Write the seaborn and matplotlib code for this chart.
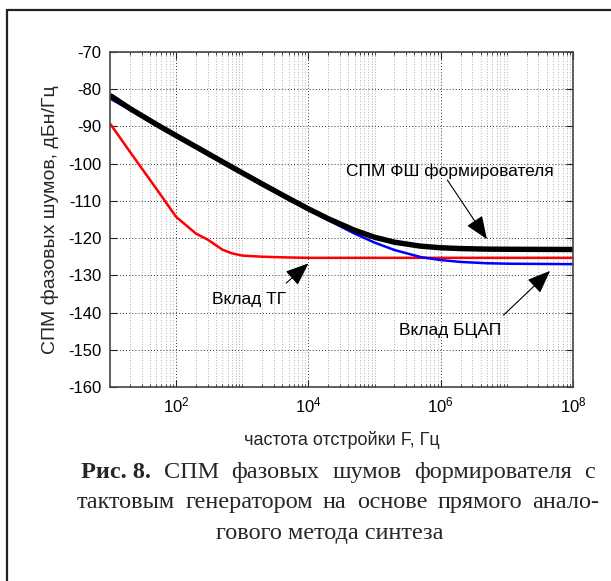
import numpy as np
import pandas as pd
import matplotlib
matplotlib.use("Agg")
import matplotlib.pyplot as plt
import seaborn as sns
from matplotlib.ticker import FixedLocator, FixedFormatter, NullFormatter
from matplotlib.patches import FancyArrowPatch
from matplotlib.lines import Line2D

# Offset frequency, Hz
freq_hz = [1e1, 2e1, 5e1, 1e2, 2e2, 3e2, 5e2, 7e2, 1e3, 2e3, 5e3, 1e4, 2e4, 5e4,
           1e5, 2e5, 5e5, 1e6, 2e6, 5e6, 1e7, 1e8]
# Phase-noise PSD, dBc/Hz
total_psd = [-81.66, -85.19, -89.42, -92.47, -95.48, -97.25, -99.48, -100.93, -102.47,
             -105.45, -109.31, -112.14, -114.8, -117.9, -119.76, -121.1, -122.17,
             -122.59, -122.81, -122.96, -123.0, -123.06]
dac_psd = [-82.5, -85.5, -89.5, -92.5, -95.5, -97.27, -99.5, -100.95, -102.5, -105.5,
           -109.4, -112.35, -115.2, -118.8, -121.2, -123.2, -125.1, -125.9, -126.4,
           -126.75, -126.87, -127.0]
clock_psd = [-89.2, -96.8, -106.7, -114.3, -118.8, -120.4, -123.1, -124.1, -124.7,
             -125.0, -125.2, -125.3, -125.3, -125.3, -125.3, -125.3, -125.3, -125.3,
             -125.3, -125.3, -125.3, -125.3]

x_ticks = [1e2, 1e4, 1e6, 1e8]
x_tick_labels = [r"$\mathregular{10^{2}}$", r"$\mathregular{10^{4}}$",
                 r"$\mathregular{10^{6}}$", r"$\mathregular{10^{8}}$"]
y_ticks = [-160, -150, -140, -130, -120, -110, -100, -90, -80, -70]

sns.set_style("ticks")
plt.rcParams["font.family"] = ["Liberation Sans", "DejaVu Sans"]
plt.rcParams["mathtext.fontset"] = "custom"
plt.rcParams["mathtext.rm"] = "Liberation Sans"

df = pd.DataFrame({
    "f": freq_hz * 3,
    "psd": clock_psd + dac_psd + total_psd,
    "series": ["clock"] * len(freq_hz) + ["dac"] * len(freq_hz) + ["total"] * len(freq_hz),
})

W, H = 611, 581
fig = plt.figure(figsize=(W / 100, H / 100), dpi=100)
ax = fig.add_axes([110 / W, 1 - 387 / H, (573 - 110) / W, (387 - 52) / H])

styles = {"clock": ("#ff0000", 1.8), "dac": ("#0000ff", 1.8), "total": ("#000000", 3.9)}
for name in ["clock", "dac", "total"]:
    color, lw = styles[name]
    sns.lineplot(data=df[df["series"] == name], x="f", y="psd", ax=ax,
                 color=color, lw=lw, legend=False, solid_capstyle="butt")

ax.set_xscale("log")
ax.set_xlim(1e1, 1e8)
ax.set_ylim(-160, -70)

ax.xaxis.set_major_locator(FixedLocator(x_ticks))
ax.xaxis.set_major_formatter(FixedFormatter(x_tick_labels))
minor_x = [k * 10.0 ** d for d in range(1, 8) for k in range(1, 10)
           if k * 10.0 ** d not in x_ticks and k * 10.0 ** d > 10]
ax.xaxis.set_minor_locator(FixedLocator(minor_x))
ax.xaxis.set_minor_formatter(NullFormatter())
ax.yaxis.set_major_locator(FixedLocator(y_ticks))
ax.set_yticklabels([str(v) for v in y_ticks])

ax.tick_params(which="both", direction="in", top=True, right=True, colors="#222222",
               labelsize=12, labelcolor="black")
ax.tick_params(which="major", length=5, width=0.8, pad=6)
ax.tick_params(which="minor", length=2.5, width=0.6)

ax.grid(which="major", linestyle=(0, (1, 2.2)), color="#333333", linewidth=0.7)
ax.grid(which="minor", axis="x", linestyle=(0, (1, 2.2)), color="#9a9a9a", linewidth=0.6)
ax.set_axisbelow(True)
for sp in ax.spines.values():
    sp.set_color("#444444")
    sp.set_linewidth(1.2)

ax.set_xlabel("частота отстройки F, Гц", fontsize=13, labelpad=11)
ax.set_ylabel("СПМ фазовых шумов, дБн/Гц", fontsize=14, labelpad=7)

# Callouts
ann_font = dict(fontsize=12.5, color="black")
ax.text(1.38e6, -103.3, "СПМ ФШ формирователя", ha="center", va="baseline", **ann_font)
ax.text(1.26e3, -137.6, "Вклад ТГ", ha="center", va="baseline", **ann_font)
ax.text(1.38e6, -146.1, "Вклад БЦАП", ha="center", va="baseline", **ann_font)

arrow_kw = dict(arrowstyle="-|>,head_length=0.8,head_width=0.32", mutation_scale=18,
                color="black", lw=0.8, shrinkA=0, shrinkB=0)
for start, tip in [((1.26e6, -104.4), (5.0e6, -120.3)),
                   ((4.6e3, -132.1), (1.0e4, -126.8)),
                   ((8.9e6, -140.7), (4.5e7, -128.8))]:
    ax.add_patch(FancyArrowPatch(start, tip, **arrow_kw))

# Page frame
fig.add_artist(Line2D([7 / W, 7 / W], [0, 1 - 9.5 / H], transform=fig.transFigure,
                      color="#222222", lw=1.6))
fig.add_artist(Line2D([7 / W, 1], [1 - 9.5 / H, 1 - 9.5 / H], transform=fig.transFigure,
                      color="#222222", lw=1.6))

# Figure caption: justified first two lines, centred last line
serif = ["Liberation Serif", "DejaVu Serif"]
cap_size = 17.5
renderer = fig.canvas.get_renderer()


def justified_line(words, y_px, left_px, right_px):
    items = []
    for word, bold in words:
        t = fig.text(0, 1 - y_px / H, word, fontsize=cap_size, family=serif,
                     fontweight="bold" if bold else "normal", ha="left", va="baseline")
        items.append((t, t.get_window_extent(renderer).width))
    total = sum(w for _, w in items)
    gap = (right_px - left_px - total) / (len(items) - 1)
    x = left_px
    for t, w in items:
        t.set_x(x / W)
        x += w + gap


justified_line([("Рис.\u00a08.", True), ("СПМ", False), ("фазовых", False),
                ("шумов", False), ("формирователя", False), ("с", False)], 478, 81, 595)
justified_line([("тактовым", False), ("генератором", False), ("на", False),
                ("основе", False), ("прямого", False), ("анало-", False)], 508, 77, 599)
fig.text(330 / W, 1 - 539 / H, "гового метода синтеза", fontsize=cap_size,
         family=serif, ha="center", va="baseline")

fig.savefig("out.png", dpi=100)
